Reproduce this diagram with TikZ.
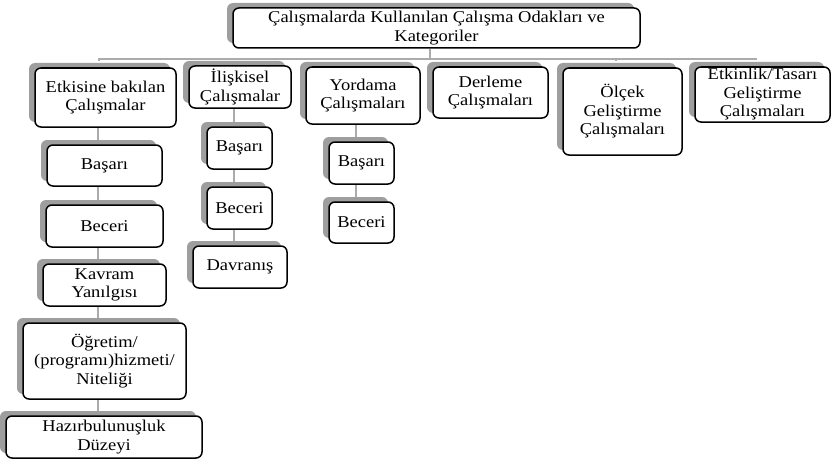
\documentclass[tikz,border=0pt]{standalone}
\usepackage{fontspec}
\setmainfont{Liberation Serif}[FakeStretch=1.12]
\usetikzlibrary{shadows,backgrounds}
\begin{document}
\begin{tikzpicture}[x=1pt,y=-1pt,
  box/.style={draw=black, line width=1.5pt, rounded corners=6pt, fill=white,
    inner sep=0pt, align=center,
    font=\fontsize{16.5}{18.5}\selectfont,
    drop shadow={shadow xshift=-6pt, shadow yshift=5pt, fill=black!38, opacity=1}},
  conn/.style={draw=black!33, line width=2pt}]
\useasboundingbox (0,0) rectangle (832,460);

% root
\node[box, minimum width=407pt, minimum height=40pt] (root) at (436.5,28)
  {Çalışmalarda Kullanılan Çalışma Odakları ve\\Kategoriler};

% level 1
\node[box, minimum width=141pt, minimum height=59pt] (etk) at (105.5,97.5) {Etkisine bakılan\\Çalışmalar};
\node[box, minimum width=102pt, minimum height=42pt] (ili) at (240,87) {İlişkisel\\Çalışmalar};
\node[box, minimum width=114pt, minimum height=57pt] (yor) at (363,95.5) {Yordama\\Çalışmaları};
\node[box, minimum width=115pt, minimum height=51pt] (der) at (490.5,92.5) {Derleme\\Çalışmaları};
\node[box, minimum width=119pt, minimum height=87pt] (olc) at (622.5,111.5) {Ölçek\\Geliştirme\\Çalışmaları};
\node[box, minimum width=135pt, minimum height=55pt] (etn) at (762.5,94.5) {Etkinlik/Tasarı\\Geliştirme\\Çalışmaları};

% Etkisine children
\node[box, minimum width=115pt, minimum height=41pt] (e1) at (104.5,165.5) {Başarı};
\node[box, minimum width=117pt, minimum height=42pt] (e2) at (104.5,226) {Beceri};
\node[box, minimum width=123pt, minimum height=42pt] (e3) at (104.5,285) {Kavram\\Yanılgısı};
\node[box, minimum width=163pt, minimum height=76pt] (e4) at (104.5,361) {Öğretim/\\(programı)hizmeti/\\Niteliği};
\node[box, minimum width=196pt, minimum height=42pt] (e5) at (104,437) {Hazırbulunuşluk\\Düzeyi};

% İlişkisel children
\node[box, minimum width=65pt, minimum height=42pt] (i1) at (239.5,148) {Başarı};
\node[box, minimum width=65pt, minimum height=42pt] (i2) at (239.5,208) {Beceri};
\node[box, minimum width=94pt, minimum height=42pt] (i3) at (240,267) {Davranış};

% Yordama children
\node[box, minimum width=65pt, minimum height=42pt] (y1) at (361.5,163) {Başarı};
\node[box, minimum width=65pt, minimum height=41pt] (y2) at (361.5,222.5) {Beceri};

\begin{scope}[on background layer]
  \foreach \c in {etk,ili,yor,der,olc,etn}{
    \draw[conn] ([xshift=-6.5pt]root.south) -- ++(0,10) -| ([xshift=-6.5pt,yshift=6pt]\c.north);
  }
  \draw[conn] ([xshift=-7.5pt]etk.south) -- ([xshift=-7.5pt]etk.south |- e5.north);
  \draw[conn] ([xshift=-6.5pt]ili.south) -- ([xshift=-6.5pt]ili.south |- i3.north);
  \draw[conn] ([xshift=-7.5pt]yor.south) -- ([xshift=-7.5pt]yor.south |- y2.north);
\end{scope}
\end{tikzpicture}
\end{document}
